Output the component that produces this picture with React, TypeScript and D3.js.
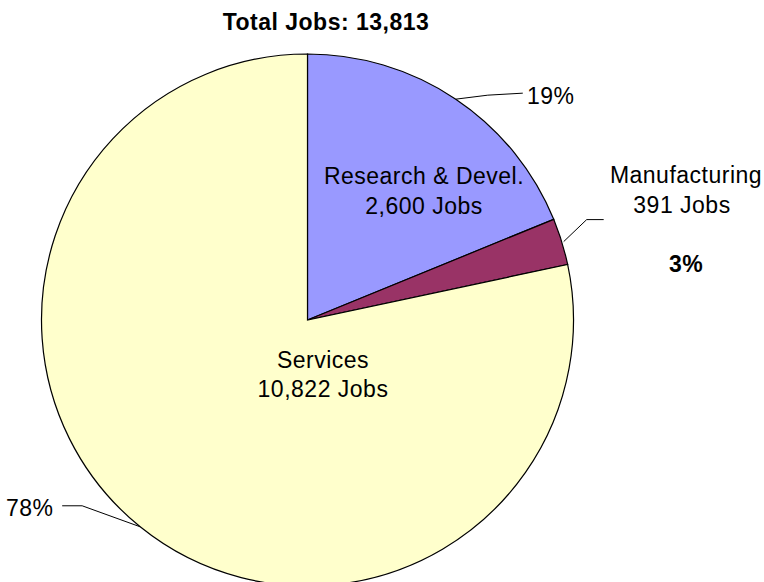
import React from "react";
import * as d3 from "d3";

const categories = ["Research & Devel.", "Manufacturing", "Services"];
const jobs = [2600, 391, 10822];
const jobLabels = ["2,600 Jobs", "391 Jobs", "10,822 Jobs"];
const percentLabels = ["19%", "3%", "78%"];
const colors = ["#9999FF", "#993366", "#FFFFCC"];
const title = "Total Jobs: 13,813";

const W = 764;
const H = 582;
const cx = 307.5;
const cy = 320;
const R = 266;

const font = "Arial, 'Liberation Sans', sans-serif";

export default function App() {
  const pie = d3.pie<number>().sort(null).value((d) => d);
  const arcs = pie(jobs);
  const arcGen = d3.arc<d3.PieArcDatum<number>>().innerRadius(0).outerRadius(R);

  const edge = (a: d3.PieArcDatum<number>) => {
    const m = (a.startAngle + a.endAngle) / 2;
    return [R * Math.sin(m), -R * Math.cos(m)];
  };

  const e0 = edge(arcs[0]);
  const e1 = edge(arcs[1]);
  const e2 = edge(arcs[2]);

  const textStyle = { fontFamily: font, fontSize: 23, letterSpacing: 0.5 } as React.CSSProperties;

  return (
    <svg width={W} height={H} style={{ position: "absolute", left: 0, top: 0, background: "#fff" }}>
      <text x={326} y={30} textAnchor="middle" style={{ ...textStyle, fontWeight: "bold" }}>
        {title}
      </text>
      <g transform={`translate(${cx},${cy})`}>
        {arcs.map((a, i) => (
          <path key={i} d={arcGen(a) || ""} fill={colors[i]} stroke="#000" strokeWidth={1.2} />
        ))}
        <polyline
          points={`${e0[0]},${e0[1]} ${e0[0] + 32},${e0[1] - 4} ${e0[0] + 67},${e0[1] - 6}`}
          fill="none"
          stroke="#000"
          strokeWidth={1}
        />
        <polyline
          points={`${e1[0] + 2},${e1[1]} ${e1[0] + 25},${e1[1] - 22} ${e1[0] + 42},${e1[1] - 22}`}
          fill="none"
          stroke="#000"
          strokeWidth={1}
        />
        <polyline
          points={`${e2[0]},${e2[1]} ${e2[0] - 58},${e2[1] - 21} ${e2[0] - 78},${e2[1] - 21}`}
          fill="none"
          stroke="#000"
          strokeWidth={1}
        />
      </g>
      <text x={424} y={184} textAnchor="middle" style={textStyle}>{categories[0]}</text>
      <text x={424} y={214} textAnchor="middle" style={textStyle}>{jobLabels[0]}</text>
      <text x={323} y={368} textAnchor="middle" style={textStyle}>{categories[2]}</text>
      <text x={323} y={397} textAnchor="middle" style={textStyle}>{jobLabels[2]}</text>
      <text x={686} y={183} textAnchor="middle" style={textStyle}>{categories[1]}</text>
      <text x={682} y={213} textAnchor="middle" style={textStyle}>{jobLabels[1]}</text>
      <text x={686} y={272} textAnchor="middle" style={{ ...textStyle, fontWeight: "bold" }}>{percentLabels[1]}</text>
      <text x={527} y={104} textAnchor="start" style={textStyle}>{percentLabels[0]}</text>
      <text x={6} y={516} textAnchor="start" style={textStyle}>{percentLabels[2]}</text>
    </svg>
  );
}
